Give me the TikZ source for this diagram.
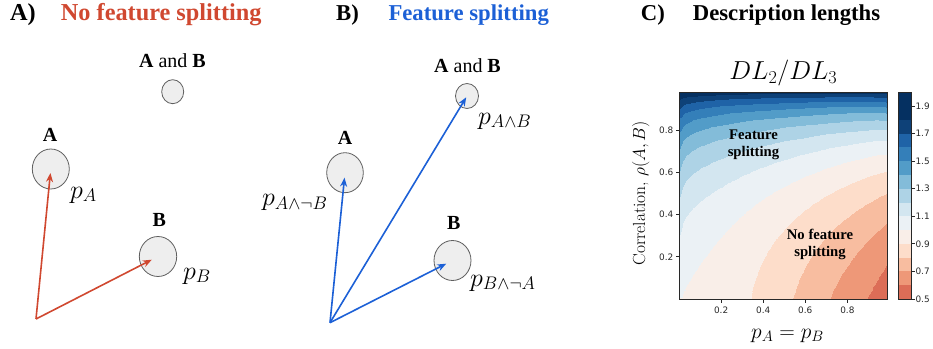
\RequirePackage{fix-cm}
\documentclass[tikz,border=0pt]{standalone}
\usepackage{fontspec}
\usepackage{pgfplots}
\pgfplotsset{compat=1.18}
\usetikzlibrary{arrows.meta,shapes.geometric}

\newfontfamily\tnr{Liberation Serif}
\newfontfamily\dvs{DejaVu Sans}

\definecolor{splitred}{RGB}{208,72,48}
\definecolor{splitblue}{RGB}{28,96,214}
\definecolor{bubblefill}{RGB}{238,238,238}
\definecolor{bubbleline}{RGB}{95,95,95}
\definecolor{axisgray}{RGB}{40,40,40}
% RdBu bands for DL2/DL3 from 0.5 to 2.0, one per 0.1
\definecolor{cb0}{RGB}{220,109,87}
\definecolor{cb1}{RGB}{238,152,120}
\definecolor{cb2}{RGB}{248,189,160}
\definecolor{cb3}{RGB}{253,221,202}
\definecolor{cb4}{RGB}{249,238,232}
\definecolor{cb5}{RGB}{235,241,245}
\definecolor{cb6}{RGB}{211,230,240}
\definecolor{cb7}{RGB}{174,211,230}
\definecolor{cb8}{RGB}{131,188,217}
\definecolor{cb9}{RGB}{82,156,200}
\definecolor{cb10}{RGB}{52,127,185}
\definecolor{cb11}{RGB}{31,99,167}
\definecolor{cb12}{RGB}{14,65,120}
\definecolor{cb13}{RGB}{5,48,97}
\definecolor{cb14}{RGB}{5,48,97}

\begin{document}
\begin{tikzpicture}[x=1pt, y=1pt,
  paneltitle/.style={font=\tnr\bfseries\fontsize{22.7}{27}\selectfont, anchor=base west, inner sep=0},
  featlabel/.style={font=\tnr\fontsize{20}{24}\selectfont, anchor=base, inner sep=0},
  bubble/.style={ellipse, draw=bubbleline, line width=0.8pt, fill=bubblefill, inner sep=0},
  plabel/.style={font=\fontsize{26}{30}\selectfont, anchor=west, inner sep=0},
  vecred/.style={draw=splitred, line width=1.6pt, -{Stealth[length=9pt,width=7pt]}},
  vecblue/.style={draw=splitblue, line width=1.6pt, -{Stealth[length=9pt,width=7pt]}},
  ticklab/.style={font=\dvs\fontsize{8.9}{10}\selectfont, text=axisgray, inner sep=0},
  inplot/.style={font=\tnr\bfseries\fontsize{14.7}{17.3}\selectfont, align=center, inner sep=0},
]
\useasboundingbox (0,0) rectangle (933,348);

% ---------------- panel titles ----------------
\node[paneltitle, font=\tnr\bfseries\fontsize{24.3}{28}\selectfont] (tA) at (10,327) {A)};
\node[paneltitle, font=\tnr\bfseries\fontsize{24.3}{28}\selectfont, text=splitred] (tAname) at (60.7,327) {No feature splitting};
\node[paneltitle] (tB) at (336,327) {B)};
\node[paneltitle, text=splitblue] (tBname) at (388.3,327) {Feature splitting};
\node[paneltitle] (tC) at (640.7,327) {C)};
\node[paneltitle] (tCname) at (692.7,327) {Description lengths};

% ---------------- panel A: no feature splitting ----------------
\node[featlabel] (aABl) at (172.5,280) {\textbf{A} and \textbf{B}};
\node[bubble, minimum width=22pt, minimum height=24pt] (aAB) at (172.7,256.3) {};
\node[featlabel] (aAl) at (50,206.3) {\textbf{A}};
\node[bubble, minimum width=37pt, minimum height=40pt] (aA) at (50.8,179) {};
\node[plabel] (apA) at (70,153) {$p_A$};
\node[featlabel] (aBl) at (159.3,121.3) {\textbf{B}};
\node[bubble, minimum width=37.4pt, minimum height=40pt] (aB) at (158,91.5) {};
\node[plabel] (apB) at (183,72) {$p_B$};
\coordinate (oA) at (36,29);
\draw[vecred, shorten >=4pt] (oA) -- (aA.center);
\draw[vecred, shorten >=7pt] (oA) -- (aB.center);

% ---------------- panel B: feature splitting ----------------
\node[featlabel] (bABl) at (467.5,275.3) {\textbf{A} and \textbf{B}};
\node[bubble, minimum width=23pt, minimum height=25pt] (bAB) at (467,252) {};
\node[plabel] (bpAB) at (478,227) {$p_{A\wedge B}$};
\node[featlabel] (bAl) at (345,203) {\textbf{A}};
\node[bubble, minimum width=36.6pt, minimum height=40pt] (bA) at (345,175.3) {};
\node[plabel] (bpA) at (262,145.5) {$p_{A\wedge\neg B}$};
\node[featlabel] (bBl) at (453.7,118) {\textbf{B}};
\node[bubble, minimum width=37pt, minimum height=40pt] (bB) at (452.5,87.5) {};
\node[plabel] (bpB) at (470,65) {$p_{B\wedge\neg A}$};
\coordinate (oB) at (330,25.3);
\draw[vecblue, shorten >=5pt] (oB) -- (bA.center);
\draw[vecblue, shorten >=1.5pt] (oB) -- (bAB.center);
\draw[vecblue, shorten >=7pt] (oB) -- (bB.center);

% ---------------- panel C: DL2/DL3 filled contours ----------------
\begin{axis}[name=dlplot, at={(679.3pt,49pt)}, anchor=south west,
  scale only axis, width=208pt, height=206.7pt,
  xmin=0.001, xmax=0.99, ymin=0, ymax=0.98, enlargelimits=false,
  hide axis, view={0}{90},
  colormap={rdbands}{color=(cb0) color=(cb1) color=(cb2) color=(cb3) color=(cb4)
    color=(cb5) color=(cb6) color=(cb7) color=(cb8) color=(cb9) color=(cb10)
    color=(cb11) color=(cb12) color=(cb13) color=(cb14)},
  colormap access=piecewise constant,
  point meta min=0.5, point meta max=2.0,
  declare function={
    Hb(\xx)=-(\xx*ln(\xx)+(1-\xx)*ln(1-\xx));
    dlr(\yy,\zz)=2*Hb(\yy)/(2*Hb(\yy*(1-\yy)*(1-\zz))+Hb(\yy*\yy+\zz*\yy*(1-\yy)));
  }]
\addplot3[surf, shader=interp, domain=0.001:0.99, y domain=0:0.98,
  samples=60, samples y=60, point meta=z] {dlr(x,y)};
\end{axis}

\draw[axisgray, line width=0.8pt] (679.3,49) rectangle (887.3,255.7);
\foreach \v/\k in {0.2/1,0.4/2,0.6/3,0.8/4} {
  \pgfmathsetmacro\X{679.3+(\v-0.001)/0.989*208}
  \pgfmathsetmacro\Y{49+\v/0.98*206.7}
  \draw[axisgray, line width=0.8pt] (\X,49) -- (\X,45.5);
  \node[ticklab] (xt\k) at (\X,38) {\v};
  \draw[axisgray, line width=0.8pt] (679.3,\Y) -- (675.8,\Y);
  \node[ticklab, anchor=east] (yt\k) at (673.5,\Y) {\v};
}

% colour bar
\foreach \k in {0,...,14} {
  \fill[cb\k] (898,49+\k*13.78) rectangle (911.7,49+\k*13.78+13.78);
}
\draw[axisgray, line width=0.8pt] (898,49) rectangle (911.7,255.7);
\foreach \v/\k in {0.5/1,0.7/2,0.9/3,1.1/4,1.3/5,1.5/6,1.7/7,1.9/8} {
  \pgfmathsetmacro\Y{49+(\v-0.5)*137.8}
  \draw[axisgray, line width=0.8pt] (911.7,\Y) -- (914.5,\Y);
  \node[ticklab, anchor=west] (ct\k) at (915.3,\Y) {\v};
}

\node[font=\fontsize{26}{30}\selectfont, inner sep=0] (dltitle) at (783.3,274.7) {$DL_2/DL_3$};
\node[font=\fontsize{21.5}{26}\selectfont, anchor=base, inner sep=0] (xlab) at (787.5,9.3) {$p_A = p_B$};
\node[font=\fontsize{17.5}{21}\selectfont, anchor=base, rotate=90, inner sep=0] (ylab) at (645,154.7) {Correlation, $\rho(A, B)$};
\node[inplot] (fsplit) at (753.5,203.5) {Feature\\splitting};
\node[inplot] (nfsplit) at (820,103.5) {No feature\\splitting};
\end{tikzpicture}
\end{document}
